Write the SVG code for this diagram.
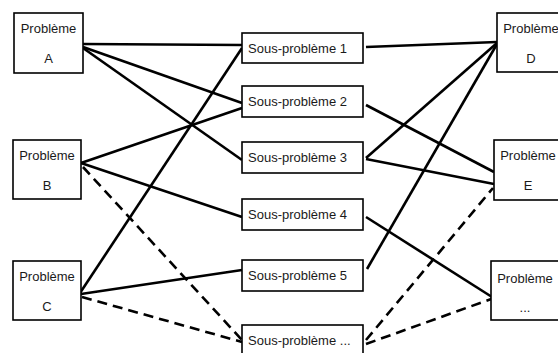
<svg xmlns="http://www.w3.org/2000/svg" width="558" height="353" viewBox="0 0 558 353">
<style>
.box{fill:#fff;stroke:#000;stroke-width:1.6}
.t{font-family:"Liberation Sans",Arial,sans-serif;font-size:13px;fill:#1a1a1a}
.c{text-anchor:middle}
.ln{stroke:#000;stroke-width:2.6;fill:none;stroke-linecap:butt}
.d{stroke-dasharray:10 6}
</style>
<rect width="558" height="353" fill="#fff"/>
<g id="connectors">
<line class="ln" x1="83" y1="44" x2="242" y2="45"/>
<line class="ln" x1="83" y1="47" x2="242" y2="103"/>
<line class="ln" x1="83" y1="48" x2="242" y2="160"/>
<line class="ln" x1="81" y1="163" x2="242" y2="108"/>
<line class="ln" x1="81" y1="163" x2="242" y2="217"/>
<line class="ln d" x1="83" y1="167" x2="242" y2="340"/>
<line class="ln" x1="80" y1="293" x2="242" y2="48"/>
<line class="ln" x1="81" y1="294" x2="242" y2="270"/>
<line class="ln d" x1="82" y1="297" x2="242" y2="342"/>
<line class="ln" x1="366" y1="47" x2="497" y2="42"/>
<line class="ln" x1="366" y1="105" x2="494" y2="172"/>
<line class="ln" x1="366" y1="158" x2="497" y2="43"/>
<line class="ln" x1="366" y1="159" x2="494" y2="184"/>
<line class="ln" x1="366" y1="217" x2="492" y2="297"/>
<line class="ln" x1="367" y1="269" x2="497" y2="44"/>
<line class="ln d" x1="366" y1="340" x2="493" y2="188"/>
<line class="ln d" x1="366" y1="344" x2="494" y2="298"/>
</g>
<g id="probA"><rect class="box" x="14" y="13" width="69" height="60"/><text class="t c" x="48.5" y="33">Problème</text><text class="t c" x="48.5" y="63">A</text></g>
<g id="probB"><rect class="box" x="13" y="140" width="68" height="59"/><text class="t c" x="47" y="160">Problème</text><text class="t c" x="47" y="190">B</text></g>
<g id="probC"><rect class="box" x="13" y="261" width="68" height="59"/><text class="t c" x="47" y="281">Problème</text><text class="t c" x="47" y="311">C</text></g>
<g id="sp1"><rect class="box" x="242" y="33" width="121" height="30"/><text class="t" x="248" y="53">Sous-problème 1</text></g>
<g id="sp2"><rect class="box" x="242" y="86" width="121" height="31"/><text class="t" x="248" y="106">Sous-problème 2</text></g>
<g id="sp3"><rect class="box" x="242" y="142" width="121" height="31"/><text class="t" x="248" y="162">Sous-problème 3</text></g>
<g id="sp4"><rect class="box" x="242" y="199" width="121" height="31"/><text class="t" x="248" y="219">Sous-problème 4</text></g>
<g id="sp5"><rect class="box" x="242" y="260" width="121" height="31"/><text class="t" x="248" y="280">Sous-problème 5</text></g>
<g id="spN"><rect class="box" x="242" y="325" width="121" height="31"/><text class="t" x="248" y="345">Sous-problème ...</text></g>
<g id="probD"><rect class="box" x="497" y="13" width="68" height="59"/><text class="t c" x="531" y="33">Problème</text><text class="t c" x="531" y="63">D</text></g>
<g id="probE"><rect class="box" x="494" y="140" width="68" height="60"/><text class="t c" x="528" y="160">Problème</text><text class="t c" x="528" y="190">E</text></g>
<g id="probF"><rect class="box" x="491" y="261" width="68" height="59"/><text class="t c" x="525" y="283">Problème</text><text class="t c" x="525" y="312">...</text></g>
</svg>
